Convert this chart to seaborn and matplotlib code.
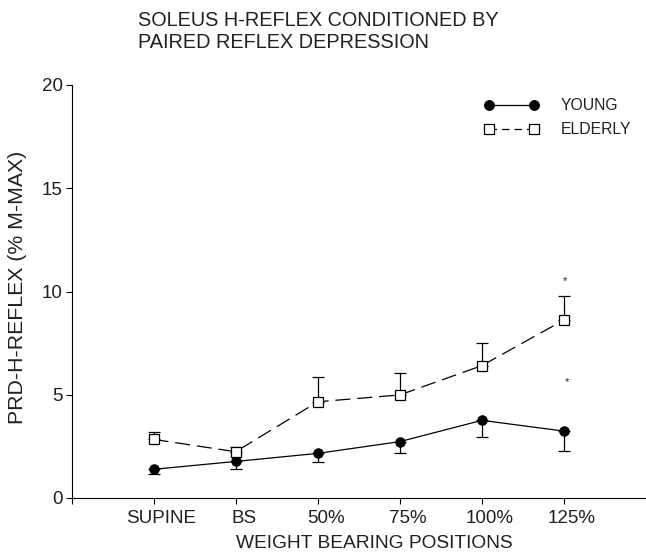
import matplotlib
matplotlib.use("Agg")
import matplotlib.pyplot as plt
import matplotlib.transforms as mtransforms
from matplotlib.lines import Line2D
import numpy as np
import pandas as pd
import seaborn as sns

# ---- data ----
positions = ["SUPINE", "BS", "50%", "75%", "100%", "125%"]
young_mean = [1.39, 1.77, 2.16, 2.73, 3.76, 3.24]
young_err_low = [0.24, 0.37, 0.44, 0.57, 0.79, 0.95]
elderly_mean = [2.84, 2.24, 4.66, 4.99, 6.41, 8.62]
elderly_err_up = [0.38, 0.25, 1.21, 1.05, 1.08, 1.16]
star_x = [6.01, 6.04]
star_y = [10.36, 5.48]
groups = ["YOUNG", "ELDERLY"]
title_lines = ["SOLEUS H-REFLEX CONDITIONED BY", "PAIRED REFLEX DEPRESSION"]
yticks = [0, 5, 10, 15, 20]

sns.set_theme(style="white")
plt.rcParams["font.family"] = ["Liberation Sans", "DejaVu Sans"]
TXT = "#231F20"

xpos = np.arange(1, len(positions) + 1)
df = pd.DataFrame({
    "pos": np.concatenate([xpos, xpos]),
    "val": young_mean + elderly_mean,
    "group": [groups[0]] * len(xpos) + [groups[1]] * len(xpos),
})

fig = plt.figure(figsize=(6.46, 5.52), dpi=100)
ax = fig.add_axes([71.5 / 646, 1 - 498 / 552, 1 - 71.5 / 646, (498 - 85) / 552])

# error bars (one sided)
ax.errorbar(xpos, young_mean, yerr=[young_err_low, np.zeros(len(xpos))],
            fmt="none", ecolor="black", elinewidth=0.9, capsize=4.3, capthick=0.9, zorder=2)
ax.errorbar(xpos, elderly_mean, yerr=[np.zeros(len(xpos)), elderly_err_up],
            fmt="none", ecolor="black", elinewidth=0.9, capsize=4.3, capthick=0.9, zorder=2)

sns.lineplot(data=df, x="pos", y="val", hue="group", style="group",
             palette={groups[0]: "black", groups[1]: "black"},
             dashes={groups[0]: "", groups[1]: (12, 5.5)},
             markers={groups[0]: "o", groups[1]: "s"},
             markersize=6.8, linewidth=0.9, ax=ax, legend=False, zorder=3)
for ln in ax.get_lines():
    if ln.get_marker() == "s":
        ln.set_markerfacecolor("white")
        ln.set_markeredgecolor("black")
        ln.set_markeredgewidth(0.9)
        ln.set_markersize(6.6)
    elif ln.get_marker() == "o":
        ln.set_markerfacecolor("black")
        ln.set_markeredgecolor("black")

for sx, sy in zip(star_x, star_y):
    ax.text(sx, sy, "*", ha="center", va="baseline", fontsize=8, color=TXT)

ax.set_xlim(0, 7)
ax.set_ylim(0, 20)
ax.set_xticks([0] + list(xpos))
ax.set_xticklabels([""] + positions)
ax.set_yticks(yticks)
ax.set_yticklabels([str(v) for v in yticks])
for s in ["top", "right"]:
    ax.spines[s].set_visible(False)
for s in ["left", "bottom"]:
    ax.spines[s].set_color("black")
    ax.spines[s].set_linewidth(0.8)
ax.tick_params(axis="both", direction="out", length=4.3, width=0.8, color="black",
               labelsize=13.5, labelcolor=TXT, left=True, bottom=True)
ax.tick_params(axis="x", pad=4.5)
ax.tick_params(axis="y", pad=2)
offset = mtransforms.ScaledTranslation(8 / 100, 0, fig.dpi_scale_trans)
for lbl in ax.get_xticklabels():
    lbl.set_transform(lbl.get_transform() + offset)

ax.set_xlabel("WEIGHT BEARING POSITIONS", fontsize=13.8, color=TXT, va="baseline")
ax.xaxis.set_label_coords((374 - 71.5) / (646 - 71.5), (498 - 547.5) / 413)
ax.set_ylabel("PRD-H-REFLEX (% M-MAX)", fontsize=15.3, color=TXT, va="center")
ax.yaxis.set_label_coords((18 - 71.5) / (646 - 71.5), 0.51)

fig.text(138 / 646, 1 - 11 / 552, "\n".join(title_lines), ha="left", va="top",
         fontsize=14.3, color=TXT, linespacing=1.2)

handles = [
    Line2D([], [], color="black", lw=0.9, marker="o", markersize=6.8,
           markerfacecolor="black"),
    Line2D([], [], color="black", lw=0.9, marker="s", markersize=6.6,
           markerfacecolor="white", markeredgewidth=0.9, dashes=(6, 4)),
]
ax.legend(handles, groups, loc="upper left", bbox_to_anchor=(484 / 646, 1 - 98 / 552),
          bbox_transform=fig.transFigure, frameon=False, fontsize=11.3,
          numpoints=2, handlelength=3.5, handletextpad=1.4, labelspacing=0.6,
          borderpad=0, borderaxespad=0, labelcolor=TXT)

fig.savefig("out.png", dpi=100)
